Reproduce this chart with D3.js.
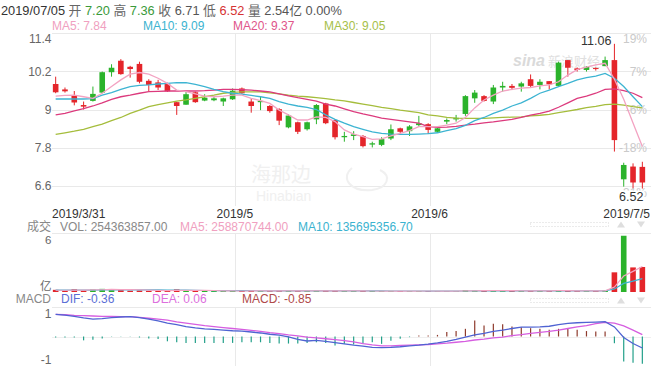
<!DOCTYPE html>
<html><head><meta charset="utf-8">
<script src="https://cdn.jsdelivr.net/npm/d3@7"></script>
<style>
html,body{margin:0;padding:0;background:#fff;overflow:hidden}
svg{display:block}
</style></head><body>
<svg id="c" width="651" height="366"></svg>
<script>
// ---------- DATA ----------
const opens=[9.80,9.63,9.45,9.14,9.27,9.53,10.17,10.53,10.34,10.43,9.90,9.85,9.80,9.23,9.15,9.54,9.28,9.29,9.25,9.32,9.66,9.25,9.23,9.11,9.01,8.44,8.60,8.38,8.69,9.19,8.67,8.13,8.17,8.17,7.90,7.89,8.09,8.41,8.32,8.51,8.54,8.30,8.62,8.69,8.86,9.35,9.42,9.25,9.69,9.74,9.72,9.95,9.77,9.89,9.74,10.55,10.29,10.24,10.30,10.36,10.55,6.81,7.21,7.20];
const highs=[10.03,9.69,9.58,9.25,9.72,10.19,10.42,10.58,10.37,10.50,9.95,9.93,9.84,9.24,9.56,9.56,9.48,9.42,9.37,9.66,9.69,9.35,9.40,9.14,9.04,8.85,8.62,8.62,9.17,9.21,8.69,8.30,8.32,8.20,7.99,8.13,8.53,8.43,8.51,8.80,8.57,8.43,8.72,8.83,9.45,9.61,9.45,9.77,9.87,9.80,9.87,10.10,9.95,9.89,10.50,10.55,10.32,10.36,10.32,10.66,11.06,7.33,7.31,7.36];
const lows=[9.51,9.53,9.13,9.00,9.25,9.51,10.03,10.09,10.00,9.82,9.57,9.61,9.55,8.83,9.15,9.21,9.26,9.26,9.11,9.30,9.49,8.90,8.98,8.90,8.51,8.41,8.23,8.34,8.54,8.54,8.06,7.99,8.04,7.81,7.81,7.85,8.04,8.25,8.17,8.46,8.23,8.27,8.54,8.62,8.80,9.21,9.25,9.17,9.56,9.61,9.56,9.69,9.63,9.63,9.72,10.03,10.19,10.19,10.22,10.36,7.68,6.58,6.53,6.52];
const closes=[9.54,9.57,9.22,9.09,9.49,10.17,10.31,10.11,10.27,9.87,9.77,9.69,9.57,9.11,9.48,9.23,9.37,9.35,9.35,9.59,9.51,9.11,9.27,8.95,8.65,8.81,8.30,8.60,9.14,8.57,8.13,8.17,8.22,7.85,7.94,8.07,8.38,8.30,8.47,8.57,8.36,8.41,8.67,8.74,9.42,9.53,9.27,9.69,9.74,9.68,9.82,9.74,9.87,9.79,10.47,10.31,10.24,10.34,10.27,10.55,8.04,7.26,6.71,6.71];

const ma5=[9.42,9.44,9.45,9.40,9.35,9.51,9.72,9.93,10.11,10.16,10.11,9.98,9.82,9.61,9.56,9.49,9.42,9.40,9.42,9.45,9.45,9.35,9.28,9.19,8.98,8.83,8.67,8.67,8.77,8.75,8.62,8.36,8.23,8.15,8.06,8.08,8.17,8.25,8.34,8.46,8.46,8.46,8.51,8.57,8.75,9.05,9.30,9.45,9.58,9.63,9.67,9.69,9.74,9.77,9.87,10.08,10.25,10.33,10.40,10.45,9.95,9.32,8.58,7.84];
const ma10=[9.33,9.33,9.33,9.33,9.34,9.45,9.53,9.63,9.72,9.76,9.77,9.80,9.82,9.84,9.84,9.79,9.72,9.63,9.56,9.51,9.48,9.44,9.40,9.35,9.25,9.17,9.11,9.07,9.00,8.83,8.69,8.57,8.46,8.38,8.30,8.25,8.23,8.22,8.22,8.23,8.24,8.27,8.34,8.40,8.50,8.65,8.75,8.88,8.98,9.11,9.21,9.35,9.51,9.61,9.72,9.82,9.93,10.00,10.05,10.13,9.98,9.72,9.40,9.09];
const ma20=[8.83,8.88,8.96,9.03,9.11,9.21,9.32,9.40,9.45,9.51,9.56,9.57,9.58,9.58,9.58,9.58,9.59,9.61,9.63,9.63,9.62,9.61,9.58,9.55,9.49,9.43,9.37,9.32,9.26,9.17,9.11,9.02,8.93,8.86,8.80,8.73,8.69,8.65,8.61,8.57,8.46,8.44,8.45,8.47,8.51,8.54,8.58,8.61,8.65,8.69,8.75,8.82,8.88,8.95,9.07,9.21,9.35,9.42,9.51,9.63,9.65,9.59,9.51,9.37];
const ma30=[8.22,8.27,8.32,8.38,8.46,8.54,8.65,8.75,8.88,8.98,9.09,9.15,9.21,9.26,9.30,9.35,9.40,9.45,9.51,9.54,9.55,9.55,9.55,9.52,9.49,9.45,9.42,9.40,9.37,9.34,9.30,9.27,9.22,9.17,9.12,9.07,9.03,8.98,8.94,8.90,8.83,8.80,8.75,8.73,8.72,8.72,8.72,8.74,8.75,8.76,8.77,8.80,8.82,8.85,8.90,8.95,9.00,9.06,9.10,9.15,9.17,9.14,9.09,9.05];

const volumes=[2.2e7,1.2e7,3.0e7,1.5e7,2.6e7,3.2e7,2.8e7,2.5e7,1.4e7,1.6e7,1.2e7,1.3e7,1.5e7,2.8e7,1.6e7,1.4e7,1.0e7,0.9e7,0.9e7,1.2e7,1.0e7,1.3e7,0.9e7,1.0e7,1.4e7,1.2e7,1.1e7,1.0e7,1.3e7,1.5e7,1.3e7,0.9e7,0.8e7,1.1e7,0.8e7,0.9e7,1.1e7,0.8e7,0.9e7,1.0e7,1.0e7,0.8e7,0.9e7,0.9e7,2.0e7,1.5e7,1.1e7,1.6e7,1.2e7,1.0e7,1.1e7,1.2e7,1.0e7,1.0e7,2.0e7,1.2e7,1.0e7,1.0e7,1.0e7,1.8e7,2.0e8,5.72e8,2.5e8,254363857];
const volMa5=[1.8e7,1.8e7,2.0e7,2.0e7,2.1e7,2.3e7,2.6e7,2.5e7,2.5e7,2.3e7,1.9e7,1.6e7,1.4e7,1.7e7,1.7e7,1.7e7,1.7e7,1.5e7,1.2e7,1.1e7,1.0e7,1.1e7,1.1e7,1.1e7,1.1e7,1.2e7,1.1e7,1.1e7,1.2e7,1.2e7,1.2e7,1.2e7,1.2e7,1.1e7,1.0e7,0.9e7,0.9e7,0.9e7,0.9e7,0.9e7,1.0e7,0.9e7,0.9e7,0.9e7,1.1e7,1.2e7,1.3e7,1.4e7,1.5e7,1.3e7,1.2e7,1.2e7,1.1e7,1.1e7,1.3e7,1.3e7,1.2e7,1.2e7,1.2e7,1.2e7,4.96e7,1.62e8,2.10e8,258870744];
const volMa10=[1.9e7,1.9e7,2.0e7,2.0e7,2.0e7,2.1e7,2.2e7,2.2e7,2.2e7,2.2e7,2.1e7,2.1e7,2.0e7,2.0e7,1.9e7,1.7e7,1.5e7,1.5e7,1.4e7,1.4e7,1.3e7,1.3e7,1.2e7,1.1e7,1.1e7,1.1e7,1.1e7,1.1e7,1.1e7,1.2e7,1.2e7,1.1e7,1.1e7,1.1e7,1.1e7,1.1e7,1.0e7,1.0e7,1.0e7,1.0e7,0.9e7,0.9e7,0.9e7,0.9e7,1.0e7,1.1e7,1.1e7,1.1e7,1.2e7,1.2e7,1.2e7,1.2e7,1.2e7,1.2e7,1.2e7,1.2e7,1.2e7,1.1e7,1.1e7,1.23e7,3.12e7,8.72e7,1.112e8,135695356.7];

const dif=[0.69,0.67,0.63,0.58,0.54,0.56,0.59,0.61,0.62,0.59,0.54,0.49,0.42,0.37,0.31,0.27,0.24,0.22,0.20,0.18,0.17,0.14,0.11,0.07,0.04,-0.01,-0.09,-0.14,-0.12,-0.15,-0.19,-0.23,-0.27,-0.30,-0.34,-0.35,-0.34,-0.32,-0.29,-0.27,-0.24,-0.20,-0.15,-0.09,-0.02,0.05,0.10,0.16,0.20,0.25,0.29,0.29,0.30,0.32,0.37,0.41,0.43,0.44,0.45,0.46,0.30,-0.03,-0.22,-0.36];
const dea=[0.69,0.68,0.66,0.65,0.64,0.63,0.63,0.62,0.62,0.60,0.57,0.54,0.51,0.46,0.42,0.38,0.34,0.31,0.28,0.25,0.22,0.19,0.16,0.12,0.09,0.05,0.02,-0.02,-0.04,-0.07,-0.10,-0.13,-0.17,-0.22,-0.26,-0.29,-0.29,-0.28,-0.27,-0.26,-0.25,-0.23,-0.21,-0.18,-0.15,-0.11,-0.08,-0.04,-0.02,0.03,0.06,0.10,0.13,0.16,0.20,0.25,0.30,0.34,0.40,0.44,0.42,0.33,0.20,0.06];
const macdHist=[-0.03,-0.03,-0.03,-0.12,-0.10,-0.06,-0.01,-0.01,-0.01,-0.03,-0.06,-0.08,-0.15,-0.18,-0.20,-0.20,-0.20,-0.20,-0.20,-0.20,-0.18,-0.18,-0.18,-0.20,-0.22,-0.22,-0.22,-0.20,-0.18,-0.20,-0.28,-0.23,-0.25,-0.23,-0.18,-0.23,-0.13,-0.07,-0.02,0.03,0.03,0.05,0.14,0.17,0.24,0.50,0.34,0.40,0.38,0.31,0.29,0.26,0.24,0.21,0.24,0.24,0.21,0.17,0.16,0.16,-0.21,-0.78,-0.82,-0.85];

const priceTicks=[11.4,10.2,9,7.8,6.6];
const pctLabels=["19%","7%","-6%","-18%","-31%"];
const dateLabels=["2019/3/31","2019/5","2019/6","2019/7/5"];
const datePos=[-0.5,19.25,40.15,63];
const volTicks=[6e8,0];
const volTickLabels=["6","亿"];
const macdTicks=[1,-1];
const headerDate="2019/07/05";
const headerVol="2.54亿";
const maNames=["MA5","MA10","MA20","MA30"];
const maLast=[7.84,9.09,9.37,9.05];
const volHeaderVals=[254363857.00,258870744.00,135695356.70];
const macdHeaderVals=[-0.36,0.06,-0.85];

// ---------- DRAW ----------
const FONT='"Liberation Sans", Arial, "Noto Sans CJK SC", sans-serif';
const svg=d3.select("#c").style("font-family",FONT);
const n=closes.length;
const x=d3.scaleLinear().domain([-0.5,n-0.5]).range([51,647]);
const y=d3.scaleLinear().domain([6.6,11.4]).range([186,33]);
const yv=d3.scaleLinear().domain([0,6e8]).range([292,233]);
const ym=d3.scaleLinear().domain([-1,1]).range([368.5,304.5]);
const bw=5.6;
const UP="#2bb32b", DOWN="#e4252a";
const GRID="#e9e9e9";
const maColors=["#f3a3c2","#3db4d2","#dc3a7d","#a5bd3c"];
const maTextColors=["#f0a0c0","#3bb3d0","#e0558a","#a6c04a"];
const isUp=i=>closes[i]>=opens[i];
const idx=d3.range(n);

// gridlines
const g=svg.append("g");
priceTicks.forEach(v=>{
  g.append("line").attr("x1",52).attr("x2",651).attr("y1",Math.round(y(v))+0.5).attr("y2",Math.round(y(v))+0.5).attr("stroke",GRID);
});
g.append("line").attr("x1",52).attr("x2",651).attr("y1",Math.round(yv(6e8))+0.5).attr("y2",Math.round(yv(6e8))+0.5).attr("stroke",GRID);
g.append("line").attr("x1",52).attr("x2",651).attr("y1",307.5).attr("y2",307.5).attr("stroke",GRID);
g.append("line").attr("x1",52).attr("x2",651).attr("y1",Math.round(ym(0))+0.5).attr("y2",Math.round(ym(0))+0.5).attr("stroke","#efefef");
datePos.forEach((p,k)=>{
  if(k===0||k===datePos.length-1) return;
  const xx=Math.round(x(p))+0.5;
  [[33,206],[233,292],[307,366]].forEach(([a,b])=>{
    g.append("line").attr("x1",xx).attr("x2",xx).attr("y1",a).attr("y2",b).attr("stroke",GRID);
  });
});

// watermarks
svg.append("text").attr("x",513).attr("y",66).attr("font-size",16).attr("font-weight","bold").attr("font-style","italic").attr("fill","#dadada").text("sina");
svg.append("text").attr("x",548).attr("y",66).attr("font-size",13).attr("fill","#e0e0e0").text("新浪财经");
svg.append("text").attr("x",251).attr("y",182).attr("font-size",20).attr("fill","#f0f0f0").text("海那边");
svg.append("text").attr("x",256).attr("y",201).attr("font-size",14).attr("fill","#f0f0f0").text("Hinabian");
svg.append("path").attr("d","M352,168 C340,178 350,192 372,190 C388,188 392,176 380,170").attr("fill","none").attr("stroke","#f0f0f0").attr("stroke-width",2);

// axis labels main
const labY=v=>Math.min(Math.max(y(v),38.5),185.5);
priceTicks.forEach((v,k)=>{
  svg.append("text").attr("x",51.5).attr("y",labY(v)).attr("dy","0.36em").attr("text-anchor","end").attr("font-size",12).attr("fill","#666").text(String(v));
  svg.append("text").attr("x",647).attr("y",labY(v)+(k===pctLabels.length-1?7:0)).attr("dy","0.36em").attr("text-anchor","end").attr("font-size",12).attr("fill","#cacaca").text(pctLabels[k]);
});

// candles
const cg=svg.append("g");
idx.forEach(i=>{
  const c=isUp(i)?UP:DOWN, cx=x(i);
  cg.append("line").attr("x1",cx).attr("x2",cx).attr("y1",y(highs[i])).attr("y2",y(lows[i])).attr("stroke",c).attr("stroke-width",1);
  const top=y(Math.max(opens[i],closes[i])), bot=y(Math.min(opens[i],closes[i]));
  cg.append("rect").attr("x",cx-bw/2).attr("y",top).attr("width",bw).attr("height",Math.max(1,bot-top)).attr("fill",c);
});

// MA lines
const line=(arr,sc)=>d3.line().x((d,i)=>x(i)).y(d=>sc(d))(arr);
[ma30,ma20,ma10,ma5].forEach((arr,k)=>{
  const ci=3-k;
  svg.append("path").attr("d",line(arr,y)).attr("fill","none").attr("stroke",maColors[ci]).attr("stroke-width",1.3);
});

// high/low labels
const hiI=d3.maxIndex(highs), loI=d3.minIndex(lows);
svg.append("text").attr("x",x(hiI)-3).attr("y",y(highs[hiI])+1).attr("text-anchor","end").attr("font-size",12.5).attr("fill","#333").text(highs[hiI].toFixed(2));
const lowT=svg.append("text").attr("x",x(loI)+1).attr("y",y(lows[loI])+12).attr("text-anchor","end").attr("font-size",12.5).attr("fill","#333").text(lows[loI].toFixed(2));
const lb=lowT.node().getBBox();
svg.insert("rect",()=>lowT.node()).attr("x",lb.x-1).attr("y",lb.y+1).attr("width",lb.width+2).attr("height",lb.height-2).attr("fill","#fff");

// header line 1 (natural flow)
const last=n-1, prev=closes[n-2];
const cmp=v=>v>prev?"#3a9a3a":(v<prev?"#d63333":"#555");
const chg=((closes[last]-prev)/prev*100).toFixed(2)+"%";
const h1=[[headerDate,"#333"],["开","#666"],[opens[last].toFixed(2),cmp(opens[last])],["高","#666"],[highs[last].toFixed(2),cmp(highs[last])],
 ["收","#666"],[closes[last].toFixed(2),cmp(closes[last])],["低","#666"],[lows[last].toFixed(2),cmp(lows[last])],["量","#666"],[headerVol,"#555"],[chg,"#555"]];
const ht=svg.append("text").attr("x",1).attr("y",15).attr("font-size",12.8).attr("xml:space","preserve");
h1.forEach(([t,c],k)=>ht.append("tspan").attr("fill",c).text((k?" ":"")+t));
// header line 2
const maX=[52,143,233,324];
maNames.forEach((nm,k)=>svg.append("text").attr("x",maX[k]).attr("y",30).attr("font-size",12).attr("fill",maTextColors[k]).text(nm+": "+maLast[k].toFixed(2)));

// date labels
datePos.forEach((p,k)=>{
  const t=svg.append("text").attr("y",217.5).attr("font-size",12).attr("fill","#333").text(dateLabels[k]);
  const w=t.node().getComputedTextLength();
  let left=x(p)-w/2;
  left=Math.max(52,Math.min(650-w,left));
  t.attr("x",left);
});

// volume header
const VH=231;
svg.append("text").attr("x",51).attr("y",VH).attr("text-anchor","end").attr("font-size",12).attr("fill","#888").text("成交");
svg.append("text").attr("x",60).attr("y",VH).attr("font-size",12).attr("fill","#888").text("VOL: "+volHeaderVals[0].toFixed(2));
svg.append("text").attr("x",180).attr("y",VH).attr("font-size",12).attr("fill","#f0a0c0").text("MA5: "+volHeaderVals[1].toFixed(2));
svg.append("text").attr("x",298).attr("y",VH).attr("font-size",12).attr("fill","#3bb3d0").text("MA10: "+volHeaderVals[2].toFixed(2));
// volume ticks
volTicks.forEach((v,k)=>{
  const yy=Math.min(Math.max(yv(v),240),285.5);
  svg.append("text").attr("x",51.5).attr("y",yy).attr("dy","0.36em").attr("text-anchor","end").attr("font-size",11.5).attr("fill","#666").text(volTickLabels[k]);
});
// UI decorations (scroll controls)
[222.5,298.5].forEach(yy=>{
  svg.append("rect").attr("x",530.5).attr("y",yy).attr("width",78).attr("height",4).attr("fill","none").attr("stroke","#d6d6d6").attr("stroke-dasharray","1,2");
  svg.append("path").attr("d",`M617,${yy+5} L621,${yy-1} L625,${yy+5} Z`).attr("fill","#dedede");
  svg.append("path").attr("d",`M637,${yy-1} L645,${yy-1} L641,${yy+5} Z`).attr("fill","#dedede");
});
// volume bars
idx.forEach(i=>{
  const top=yv(volumes[i]);
  svg.append("rect").attr("x",x(i)-bw/2).attr("y",Math.min(top,291)).attr("width",bw).attr("height",Math.max(1,yv(0)-top)).attr("fill",isUp(i)?UP:DOWN);
});
svg.append("path").attr("d",line(volMa10,yv)).attr("fill","none").attr("stroke","#3db4d2").attr("stroke-width",1.2);
svg.append("path").attr("d",line(volMa5,yv)).attr("fill","none").attr("stroke","#f3a3c2").attr("stroke-width",1.2);

// MACD header
const MH=303;
svg.append("text").attr("x",51).attr("y",MH).attr("text-anchor","end").attr("font-size",12).attr("fill","#888").text("MACD");
svg.append("text").attr("x",61).attr("y",MH).attr("font-size",12).attr("fill","#5b6fd6").text("DIF: "+macdHeaderVals[0].toFixed(2));
svg.append("text").attr("x",152).attr("y",MH).attr("font-size",12).attr("fill","#dd6fdd").text("DEA: "+macdHeaderVals[1].toFixed(2));
svg.append("text").attr("x",242).attr("y",MH).attr("font-size",12).attr("fill","#b04a4a").text("MACD: "+macdHeaderVals[2].toFixed(2));
macdTicks.forEach(v=>{
  const yy=Math.min(Math.max(ym(v),313.5),360);
  svg.append("text").attr("x",51.5).attr("y",yy).attr("dy","0.36em").attr("text-anchor","end").attr("font-size",12).attr("fill","#666").text(String(v));
});
// MACD histogram
idx.forEach(i=>{
  const v=macdHist[i];
  svg.append("line").attr("x1",x(i)).attr("x2",x(i)).attr("y1",ym(0)).attr("y2",ym(v)).attr("stroke",v>=0?"#8e3a2c":"#23a08a").attr("stroke-width",1.2);
});
svg.append("path").attr("d",line(dea,ym)).attr("fill","none").attr("stroke","#d65ee0").attr("stroke-width",1.3);
svg.append("path").attr("d",line(dif,ym)).attr("fill","none").attr("stroke","#4f63d2").attr("stroke-width",1.3);
</script>
</body></html>
